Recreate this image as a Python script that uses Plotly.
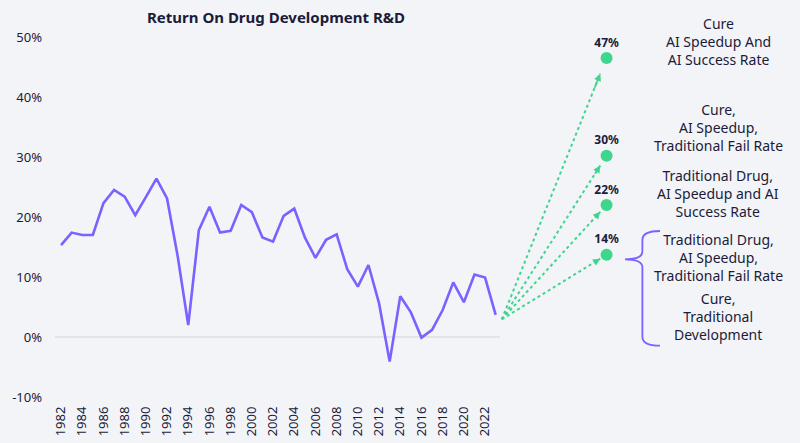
import plotly.graph_objects as go

years = list(range(1982, 2024))
returns = [15.3, 17.4, 17.0, 17.0, 22.3, 24.5, 23.4, 20.3, 23.3, 26.4, 23.1, 13.5,
           2.0, 17.8, 21.7, 17.4, 17.7, 22.0, 20.8, 16.6, 15.9, 20.2, 21.4, 16.6,
           13.2, 16.2, 17.1, 11.3, 8.4, 12.0, 5.6, -4.1, 6.8, 4.1, -0.1, 1.2,
           4.5, 9.1, 5.8, 10.4, 9.9, 3.7]

scenario_values = [46.5, 30.2, 22.0, 13.7]
scenario_labels = ["47%", "30%", "22%", "14%"]
scenario_texts = [
    "Cure<br>AI Speedup And<br>AI Success Rate",
    "Cure,<br>AI Speedup,<br>Traditional Fail Rate",
    "Traditional Drug,<br>AI Speedup and AI<br>Success Rate",
    "Traditional Drug,<br>AI Speedup,<br>Traditional Fail Rate",
    "Cure,<br>Traditional<br>Development",
]
scenario_text_y = [49.2, 34.9, 24.0, 13.2, 3.4]
tick_years = list(range(1982, 2023, 2))

PURPLE = "#7B61FF"
GREEN = "#3DD68C"
TEXT = "#1B1B3A"
BG = "#F3F4F7"
FONT = "Noto Sans"

dot_x = 2033.46
arrow_start = (2023.58, 2.95)
text_x = 2044.0

fig = go.Figure()

fig.add_trace(go.Scatter(x=years, y=returns, mode="lines",
                         line=dict(color=PURPLE, width=2.6),
                         hoverinfo="skip", showlegend=False))

# dotted arrows
for v in scenario_values:
    f_end = 0.94
    f_tail = 0.88
    ex = arrow_start[0] + f_end * (dot_x - arrow_start[0])
    ey = arrow_start[1] + f_end * (v - arrow_start[1])
    tx = arrow_start[0] + f_tail * (dot_x - arrow_start[0])
    ty = arrow_start[1] + f_tail * (v - arrow_start[1])
    fig.add_trace(go.Scatter(
        x=[arrow_start[0], ex], y=[arrow_start[1], ey],
        mode="lines",
        line=dict(color=GREEN, width=2, dash="dot"),
        hoverinfo="skip", showlegend=False))
    fig.add_annotation(x=ex, y=ey, ax=tx, ay=ty, xref="x", yref="y",
                       axref="x", ayref="y", text="", showarrow=True,
                       arrowhead=2, arrowsize=0.9, arrowwidth=1.6,
                       arrowcolor=GREEN)

fig.add_trace(go.Scatter(
    x=[dot_x] * len(scenario_values), y=scenario_values,
    mode="markers+text", text=["<b>%s</b>" % t for t in scenario_labels],
    textposition="top center",
    textfont=dict(family=FONT, size=12, color=TEXT),
    marker=dict(size=12, color=GREEN),
    cliponaxis=False, hoverinfo="skip", showlegend=False))

for t, y in zip(scenario_texts, scenario_text_y):
    fig.add_annotation(x=text_x, y=y, xref="x", yref="y", text=t,
                       showarrow=False, align="center",
                       font=dict(family=FONT, size=14, color=TEXT))

# zero line
fig.add_shape(type="line", x0=1981.43, x1=2023.4, y0=0, y1=0,
              xref="x", yref="y", line=dict(color="#D3D3D6", width=1.2),
              layer="below")

# bracket
bx_end, bx_v, bx_tip = 2038.5, 2036.84, 2035.2
by_top, by_mid, by_bot = 17.67, 12.95, -1.45
path = (f"M {bx_end},{by_top} Q {bx_v},{by_top} {bx_v},{by_top-1.5} "
        f"L {bx_v},{by_mid+1.3} Q {bx_v},{by_mid} {bx_tip},{by_mid} "
        f"Q {bx_v},{by_mid} {bx_v},{by_mid-1.3} "
        f"L {bx_v},{by_bot+1.5} Q {bx_v},{by_bot} {bx_end},{by_bot}")
fig.add_shape(type="path", path=path, xref="x", yref="y",
              line=dict(color=PURPLE, width=1.8))

fig.update_layout(
    width=800, height=443,
    paper_bgcolor=BG, plot_bgcolor=BG,
    margin=dict(l=55, r=18, t=37, b=46, autoexpand=False),
    font=dict(family=FONT, size=13, color=TEXT),
    title=dict(text="<b>Return On Drug Development R&D</b>",
               x=276 / 800, xanchor="center", y=1 - 18 / 443, yanchor="middle",
               font=dict(family=FONT, size=15, color=TEXT)),
    showlegend=False,
)
fig.update_xaxes(range=[1981.43, 2050.01], tickvals=tick_years,
                 ticktext=[str(y) for y in tick_years], tickangle=-90,
                 showgrid=False, zeroline=False, showline=False,
                 ticks="", ticklabelstandoff=6, automargin=False,
                 tickfont=dict(family=FONT, size=13, color=TEXT))
fig.update_yaxes(range=[-10, 50], tickvals=[-10, 0, 10, 20, 30, 40, 50],
                 ticktext=["-10%", "0%", "10%", "20%", "30%", "40%", "50%"],
                 showgrid=False, zeroline=False, showline=False,
                 ticks="", ticklabelstandoff=12, automargin=False,
                 tickfont=dict(family=FONT, size=13, color=TEXT))

fig.write_html(
    "out.html",
    config={"displayModeBar": False},
    post_script="document.body.style.margin='0';document.body.style.background='%s';" % BG,
)
